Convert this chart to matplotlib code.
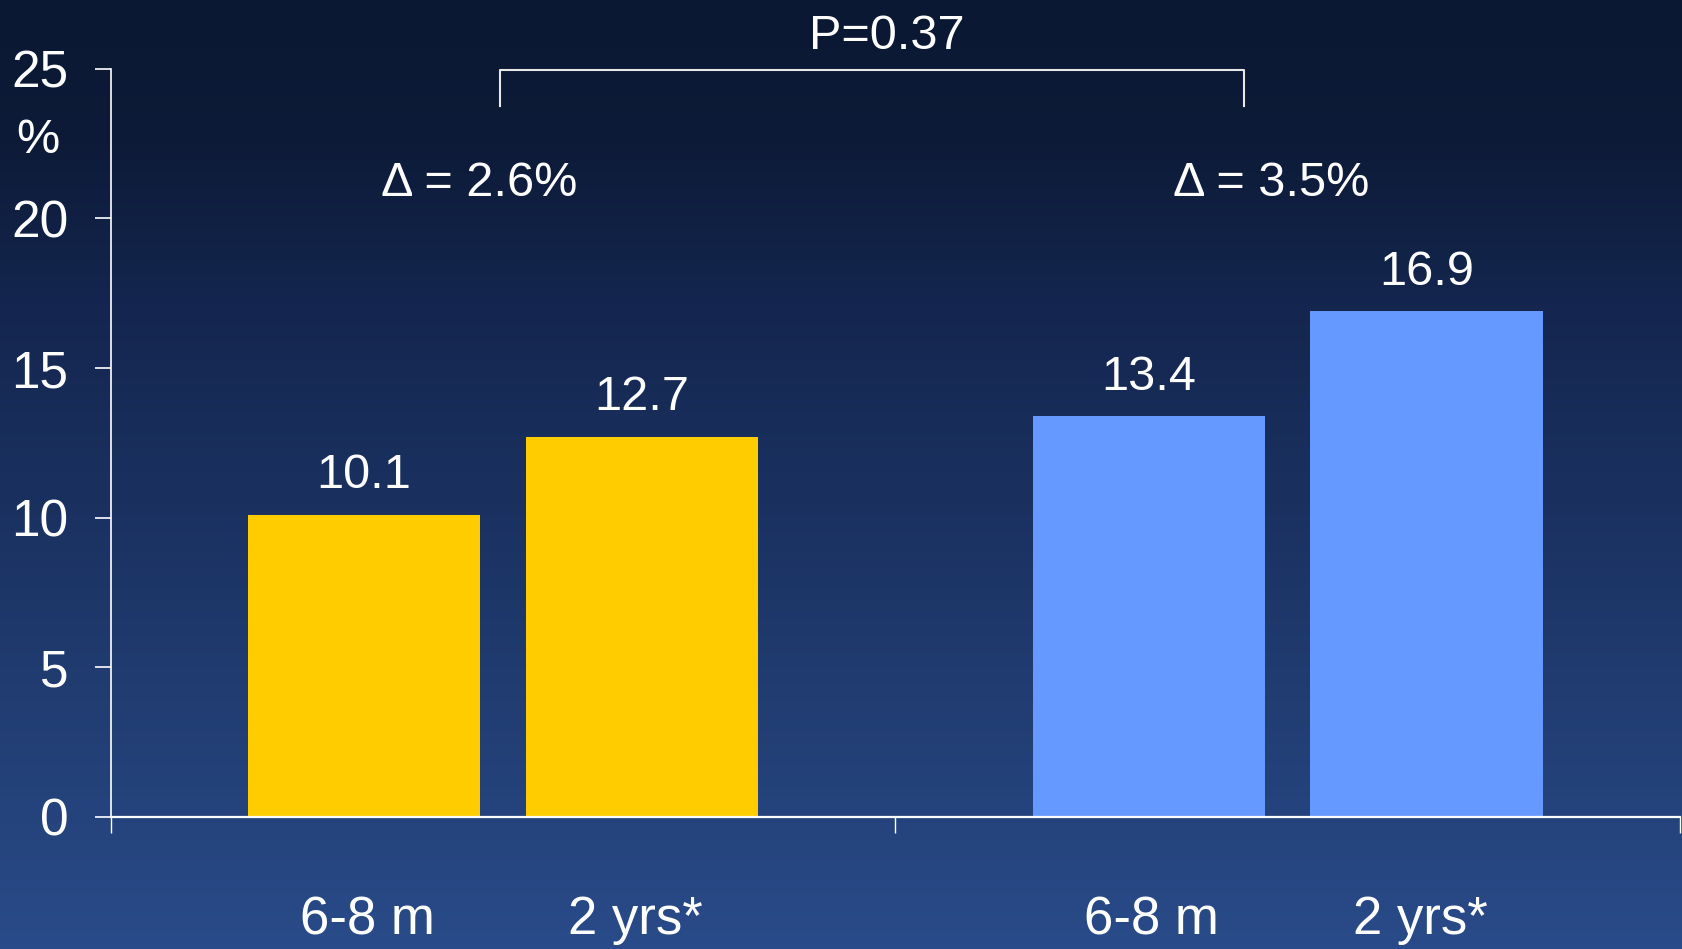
import matplotlib.pyplot as plt
import numpy as np
from matplotlib.colors import LinearSegmentedColormap
from matplotlib.transforms import blended_transform_factory

plt.rcParams['font.family'] = ['Liberation Sans', 'DejaVu Sans']

# two groups, each with an early and a late measurement
groups = [0.5, 1.5]
labels = ['6-8 m', '2 yrs*']
values = [[10.1, 12.7], [13.4, 16.9]]
colors = ['#FFCC00', '#6699FF']
deltas = ['Δ = 2.6%', 'Δ = 3.5%']
p_text = 'P=0.37'
yticks = [0, 5, 10, 15, 20, 25]

width = 0.296
offset = 0.177

fig = plt.figure(figsize=(16.83, 9.49), dpi=100)

# vertical navy gradient behind everything
bg = fig.add_axes([0, 0, 1, 1], zorder=-10)
cmap = LinearSegmentedColormap.from_list(
    'bg', [(0.0, '#0b1833'), (0.15, '#0d1b38'), (0.32, '#14264f'),
           (0.53, '#1a3160'), (0.74, '#213d72'), (1.0, '#294b89')])
grad = np.linspace(0, 1, 256).reshape(-1, 1)
bg.imshow(grad, aspect='auto', cmap=cmap, extent=[0, 1, 0, 1], origin='upper')
bg.axis('off')

ax = fig.add_axes([0.0657, 0.1391, 0.9325, 0.7885])
ax.set_facecolor('none')

tr = blended_transform_factory(ax.transData, ax.transAxes)
for g, vals, c in zip(groups, values, colors):
    xs = [g - offset, g + offset]
    bars = ax.bar(xs, vals, width, color=c, zorder=2)
    for b, v in zip(bars, vals):
        ax.annotate(f'{v:.1f}', (b.get_x() + b.get_width() / 2, v),
                    xytext=(0, 19), textcoords='offset points',
                    ha='center', va='baseline', color='white', fontsize=35)
    for x, lab in zip(xs, labels):
        # the asterisk labels sit a touch left of the bar centre
        shift = -0.008 if lab.endswith('*') else 0.004
        ax.text(x + shift, -0.138, lab, transform=tr, ha='center', va='center',
                color='white', fontsize=38)

# delta annotations above each group
ax.text(0.470, 20.75, deltas[0], ha='center', va='baseline',
        color='white', fontsize=35)
ax.text(1.479, 20.75, deltas[1], ha='center', va='baseline',
        color='white', fontsize=35)

# comparison bracket
ax.plot([0.496, 0.496, 1.444, 1.444], [23.75, 24.95, 24.95, 23.75],
        color='#e8e8e8', lw=1.5, clip_on=False, zorder=3)
ax.text(0.989, 25.66, p_text, ha='center', va='baseline',
        color='white', fontsize=35)

ax.set_xlim(0, 2)
ax.set_ylim(0, 25)
ax.set_xticks([0, 1, 2])
ax.set_xticklabels([])
ax.set_yticks(yticks)
ax.set_yticklabels([str(t) for t in yticks])
ax.tick_params(axis='both', colors='white', direction='out',
               length=11.5, width=1.2, labelsize=37, pad=19)
ax.tick_params(axis='x', width=1.0)

for side in ['top', 'right']:
    ax.spines[side].set_visible(False)
ax.spines['left'].set_color('white')
ax.spines['bottom'].set_color('white')
ax.spines['left'].set_linewidth(1.2)
ax.spines['bottom'].set_linewidth(1.6)
ax.spines['bottom'].set_zorder(4)

fig.text(0.0226, 0.852, '%', ha='center', va='center', color='white', fontsize=35)

fig.savefig('out.png', dpi=100)
